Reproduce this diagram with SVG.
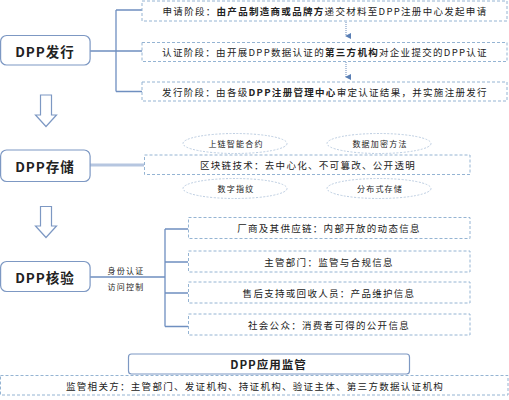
<svg xmlns="http://www.w3.org/2000/svg" width="509" height="400" viewBox="0 0 509 400">
<style>
text{font-family:"Noto Sans CJK SC","Noto Sans",sans-serif;fill:#222;text-anchor:middle;dominant-baseline:central}
.title{font-size:13.5px;font-weight:bold;letter-spacing:1px}
.t{font-size:9.5px;letter-spacing:1.3px}
.s{font-size:8px;letter-spacing:1.2px}
.b{font-weight:bold}
.node{fill:#fff;stroke:#7d98c3;stroke-width:1.2}
.dash{fill:#fff;stroke:#95b4d3;stroke-width:1;stroke-dasharray:3 2}
.ell{fill:#fff;stroke:#b3c6dc;stroke-width:0.9;stroke-dasharray:2 1.5}
.ln{fill:none;stroke:#6f8fc0;stroke-width:1.3}
.hollow{fill:#fff;stroke:#7d98c3;stroke-width:1.2}
</style>
<defs>
<marker id="ah" viewBox="0 0 6 6" refX="3" refY="5" markerWidth="6" markerHeight="6" orient="auto-start-reverse" markerUnits="userSpaceOnUse">
<path d="M0,0 L6,0 L3,6 Z" fill="#5a7fb5"/>
</marker>
</defs>
<rect width="509" height="400" fill="#fff"/>
<g id="connectors">
<path class="ln" d="M90,51 H116 M116,10 V91.5 M116,10 H142 M116,51 H142 M116,91.5 H142"/>
<line x1="346" y1="22" x2="346" y2="36" stroke="#5a7fb5" stroke-width="0.9" stroke-dasharray="1 1" marker-end="url(#ah)"/>
<line x1="346" y1="62" x2="346" y2="77" stroke="#5a7fb5" stroke-width="0.9" stroke-dasharray="1 1" marker-end="url(#ah)"/>
<line x1="90" y1="165" x2="144" y2="165" stroke="#b6c6e0" stroke-width="3"/>
<path class="ln" d="M90,277 H165 M165,229 V326.5 M165,229 H188 M165,262 H188 M165,293 H188 M165,326.5 H188"/>
<path class="hollow" d="M40.5,95 H51.5 V115 H56.5 L46,126.5 L35.5,115 H40.5 Z"/>
<path class="hollow" d="M40.5,206.5 H51.5 V226 H56.5 L46,237.5 L35.5,226 H40.5 Z"/>
<text x="126" y="270" class="s">身份认证</text>
<text x="126" y="286" class="s">访问控制</text>
</g>
<g id="issue">
<rect class="node" x="0.6" y="35.5" width="89.5" height="29.5" rx="6"/>
<text x="45" y="50.5" class="title">DPP发行</text>
</g>
<g id="apply">
<rect class="dash" x="142" y="1" width="365" height="20"/>
<text x="325" y="11" class="t">申请阶段：<tspan class="b">由产品制造商或品牌方</tspan>递交材料至DPP注册中心发起申请</text>
</g>
<g id="certify">
<rect class="dash" x="142" y="42.5" width="365" height="19"/>
<text x="325" y="52" class="t">认证阶段：由开展DPP数据认证的<tspan class="b">第三方机构</tspan>对企业提交的DPP认证</text>
</g>
<g id="release">
<rect class="dash" x="142" y="82" width="365" height="19"/>
<text x="325" y="91.5" class="t">发行阶段：由各级<tspan class="b">DPP注册管理中心</tspan>审定认证结果，并实施注册发行</text>
</g>
<g id="storage">
<rect class="node" x="0.6" y="150" width="89.5" height="31.5" rx="6"/>
<text x="45" y="166" class="title">DPP存储</text>
</g>
<g id="blockchain">
<rect class="dash" x="144.5" y="155" width="325.5" height="19.5"/>
<text x="308" y="165" class="t">区块链技术：去中心化、不可篡改、公开透明</text>
</g>
<g id="e1"><ellipse class="ell" cx="235" cy="143.5" rx="52" ry="10"/><text x="236" y="143.5" class="s">上链智能合约</text></g>
<g id="e2"><ellipse class="ell" cx="379" cy="143.5" rx="52" ry="10"/><text x="380" y="143.5" class="s">数据加密方法</text></g>
<g id="e3"><ellipse class="ell" cx="235" cy="188.5" rx="52" ry="10"/><text x="236" y="188.5" class="s">数字指纹</text></g>
<g id="e4"><ellipse class="ell" cx="379" cy="188.5" rx="52" ry="10"/><text x="380" y="188.5" class="s">分布式存储</text></g>
<g id="verify">
<rect class="node" x="0.6" y="261.5" width="89.5" height="30" rx="6"/>
<text x="45" y="277" class="title">DPP核验</text>
</g>
<g id="v1"><rect class="dash" x="188.5" y="217.5" width="281.5" height="21"/><text x="329" y="228" class="t">厂商及其供应链：内部开放的动态信息</text></g>
<g id="v2"><rect class="dash" x="188.5" y="251" width="281.5" height="21"/><text x="329" y="261.5" class="t">主管部门：监管与合规信息</text></g>
<g id="v3"><rect class="dash" x="188.5" y="282" width="281.5" height="21"/><text x="329" y="292.5" class="t">售后支持或回收人员：产品维护信息</text></g>
<g id="v4"><rect class="dash" x="188.5" y="314" width="281.5" height="21"/><text x="329" y="324.5" class="t">社会公众：消费者可得的公开信息</text></g>
<g id="supervise">
<rect class="node" x="128.5" y="354" width="281" height="20" rx="3"/>
<text x="268.5" y="364" class="b" style="font-size:11.5px;letter-spacing:1px">DPP应用监管</text>
</g>
<g id="stakeholders">
<rect class="dash" x="0.5" y="375.5" width="507.5" height="19.5"/>
<text x="255" y="385.5" class="t">监管相关方：主管部门、发证机构、持证机构、验证主体、第三方数据认证机构</text>
</g>
</svg>
